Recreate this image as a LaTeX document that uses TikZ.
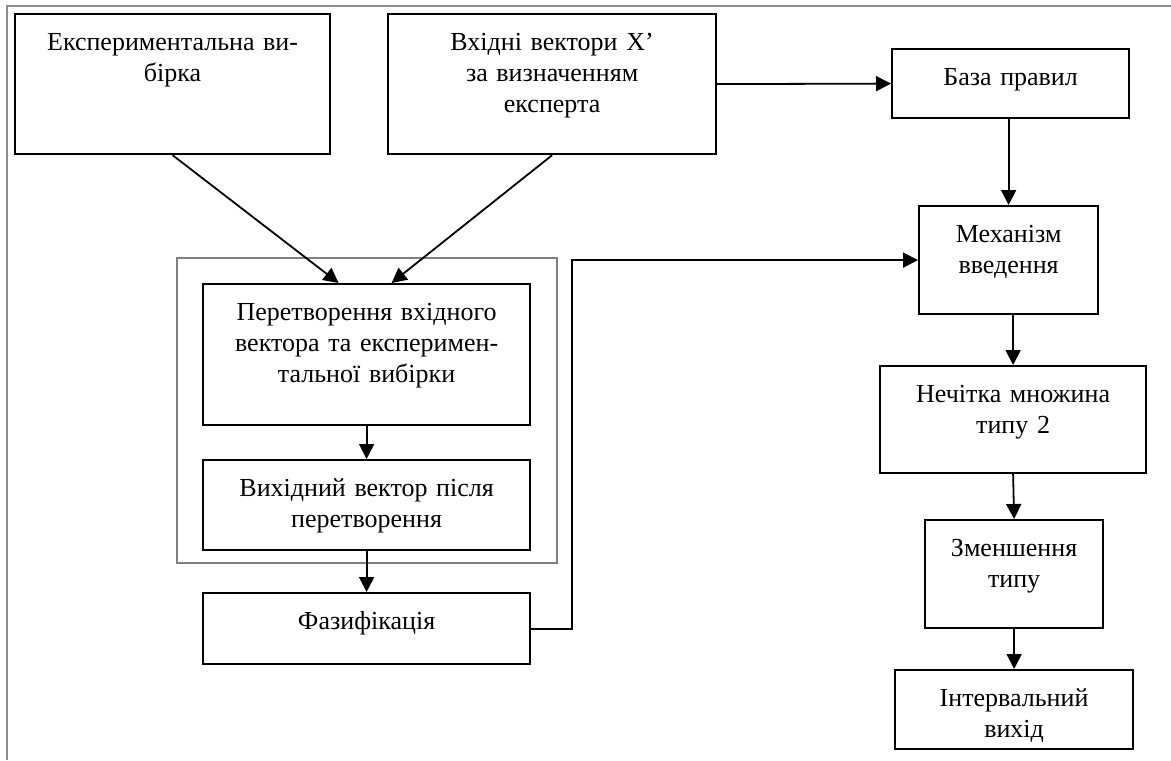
\documentclass[tikz,border=0pt]{standalone}
\usepackage{fontspec}
\setmainfont{Liberation Serif}
\usepackage{tikz}
\usetikzlibrary{arrows.meta,calc}

\begin{document}
\begin{tikzpicture}[x=0.5pt,y=-0.5pt,
    font={\fontsize{13}{15.5}\selectfont},
    blok/.style={draw, line width=1.1pt, inner sep=0pt, anchor=north west,
                 align=center, text height=18pt},
    strilka/.style={line width=0.9pt, -{Triangle[length=7.5pt,width=7.5pt]}},
    ramka/.style={draw=gray, line width=0.6pt}]
            \useasboundingbox (0,0) rectangle (1171,760);
            \draw[draw=gray!90, line width=1pt] (7,760) -- (7,6) -- (1171,6);

            \node[blok, text width=157.5pt, text depth=52pt] at (14,13) (vybirka)
                {Експериментальна ви-\\бірка};
            \node[blok, text width=164pt, text depth=52pt] at (387,13) (vhid)
                {Вхідні вектори X’\\за визначенням\\експерта};
            \node[blok, text width=118.5pt, text depth=16.5pt] at (891,48) (baza)
                {База правил};
            \node[blok, text width=89.5pt, text depth=36pt] at (918,205) (mekh)
                {Механізм\\введення};
            \node[blok, text width=133pt, text depth=35.5pt] at (879,365) (nechit)
                {Нечітка множина\\типу 2};
            \node[blok, text width=89pt, text depth=36pt] at (924,519) (zmensh)
                {Зменшення\\типу};
            \node[blok, text width=119pt, text depth=21.5pt] at (894,669) (interv)
                {Інтервальний\\вихід};

            \draw[ramka] (177,258) rectangle (557,563);
            \node[blok, text width=163.5pt, text depth=52.5pt] at (202,283) (peretv)
                {Перетворення вхідного\\вектора та експеримен-\\тальної вибірки};
            \node[blok, text width=163.5pt, text depth=27pt] at (202,459) (vyhid)
                {Вихідний вектор після\\перетворення};
            \node[blok, text width=163.5pt, text depth=17.5pt] at (202,592) (faz)
                {Фазифікація};

            \draw[strilka] (vybirka.south) -- ($(peretv.north)+(-28,0)$);
            \draw[strilka] (vhid.south) -- ($(peretv.north)+(25,0)$);
            \draw[strilka] (peretv.south) -- (vyhid.north);
            \draw[strilka] (vyhid.south) -- (faz.north);
            \draw[strilka] (faz.east) -- ++(41,0) |- (mekh.west);

            \draw[strilka] (vhid.east) -- (baza.west);
            \draw[strilka] (mekh.north |- baza.south) -- (mekh.north);
            \draw[strilka] (nechit.north |- mekh.south) -- (nechit.north);
            \draw[strilka] (zmensh.south) -- (interv.north);
            \draw[strilka] (nechit.south) -- (zmensh.north);
        \end{tikzpicture}
\end{document}
